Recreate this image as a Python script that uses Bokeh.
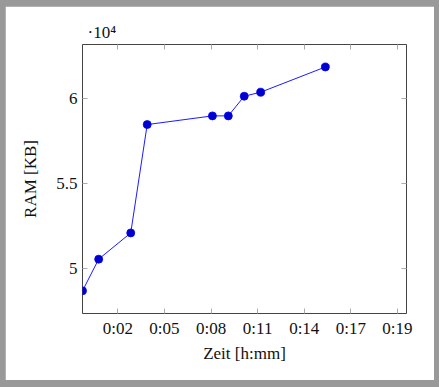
from bokeh.plotting import figure
from bokeh.layouts import column
from bokeh.models import FixedTicker, Range1d, LinearAxis
from bokeh.embed import file_html
from bokeh.resources import INLINE

# Data: time in seconds, RAM in KB
time_s = [41, 100, 217, 277, 515, 573, 631, 691, 927]
ram_kb = [48710, 50570, 52110, 58470, 58980, 58980, 60135, 60370, 61850]

x_ticks = [170, 340, 510, 680, 850, 1020, 1190]
x_tick_labels = ["0:02", "0:05", "0:08", "0:11", "0:14", "0:17", "0:19"]
y_ticks = [50000, 55000, 60000]
y_tick_labels = ["5", "5.5", "6"]

FONT = "Liberation Serif"
TXT = "#111111"

X0, X1 = 41, 1223
Y0, Y1 = 47380, 63170
FW, FH = 324, 269

p = figure(width=429, height=374, output_backend="svg", toolbar_location=None,
           x_range=Range1d(X0, X1), y_range=Range1d(Y0, Y1),
           frame_width=FW, frame_height=FH,
           min_border_left=77, min_border_right=28, min_border_top=38, min_border_bottom=67,
           title="·10⁴")
p.margin = (6, 5, 7, 5)
p.background_fill_color = "white"
p.border_fill_color = "white"
p.outline_line_color = "#444444"
p.outline_line_width = 1
p.grid.visible = False

p.title.align = "left"
p.title.offset = 5
p.title.standoff = 5
p.title.text_font = FONT
p.title.text_font_size = "17px"
p.title.text_font_style = "normal"
p.title.text_color = TXT

for ax in (p.xaxis[0], p.yaxis[0]):
    ax.axis_line_color = None
    ax.major_tick_in = 5
    ax.major_tick_out = 0
    ax.minor_tick_line_color = None
    ax.major_tick_line_color = "#aaaaaa"
    ax.major_label_text_font = FONT
    ax.major_label_text_font_size = "17px"
    ax.major_label_text_color = TXT
    ax.axis_label_text_font = FONT
    ax.axis_label_text_font_size = "17px"
    ax.axis_label_text_font_style = "normal"
    ax.axis_label_text_color = TXT

p.xaxis[0].ticker = FixedTicker(ticks=x_ticks)
p.xaxis[0].major_label_overrides = dict(zip(x_ticks, x_tick_labels))
p.yaxis[0].ticker = FixedTicker(ticks=y_ticks)
p.yaxis[0].major_label_overrides = dict(zip(y_ticks, y_tick_labels))
p.xaxis[0].axis_label = "Zeit [h:mm]"
p.yaxis[0].axis_label = "RAM [KB]"
p.xaxis[0].major_label_standoff = 5
p.yaxis[0].major_label_standoff = 5
p.xaxis[0].axis_label_standoff = 3
p.yaxis[0].axis_label_standoff = 13

top = LinearAxis(ticker=FixedTicker(ticks=x_ticks), axis_line_color=None,
                 major_tick_in=5, major_tick_out=0, minor_tick_line_color=None,
                 major_tick_line_color="#aaaaaa", major_label_text_color=None,
                 major_label_text_font_size="4px", major_label_standoff=0)
right = LinearAxis(ticker=FixedTicker(ticks=y_ticks), axis_line_color=None,
                   major_tick_in=5, major_tick_out=0, minor_tick_line_color=None,
                   major_tick_line_color="#aaaaaa", major_label_text_color=None,
                   major_label_text_font_size="4px", major_label_standoff=0)
top.major_label_overrides = {t: "" for t in x_ticks}
right.major_label_overrides = {t: "" for t in y_ticks}
p.add_layout(top, "above")
p.add_layout(right, "right")

p.line(time_s, ram_kb, line_color="#0000ff", line_width=0.9)
p.scatter(time_s, ram_kb, size=8, fill_color="#0000cc", line_color="#0000ff", line_width=0.8)

layout = column(p, styles={"background-color": "#999999"})

open("out.html", "w").write(file_html(layout, INLINE))
